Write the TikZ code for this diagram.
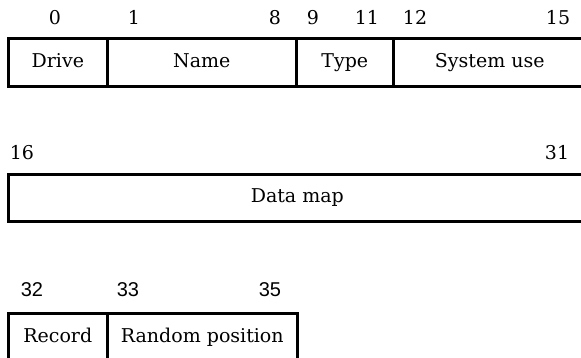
\documentclass[tikz,border=0pt]{standalone}
\usepackage{fontspec}
\setmainfont{DejaVu Serif}
\newfontfamily\numsans{Liberation Sans}
\begin{document}
\begin{tikzpicture}[x=1pt,y=1pt,
  cell/.style={draw=black,line width=2.6pt,rectangle,anchor=north west,inner sep=0pt,
    minimum height=48pt,text height=14pt,text depth=4pt,font=\fontsize{19}{22}\selectfont},
  lbl/.style={inner sep=0pt,anchor=base,font=\fontsize{19}{22}\selectfont},
  slbl/.style={inner sep=0pt,anchor=base,font=\numsans\fontsize{20}{22}\selectfont}]
\useasboundingbox (0,0) rectangle (581,-357);
% row 1
\node[cell,minimum width=99pt] (drive) at (7,-37) {Drive};
\node[cell,minimum width=189pt] (name) at (106,-37) {Name};
\node[cell,minimum width=97pt] (type) at (295,-37) {Type};
\node[cell,minimum width=193pt] (sys) at (392,-37) {System use};
\node[lbl] (l0) at (55,-24) {0};
\node[lbl] (l1) at (134,-24) {1};
\node[lbl] (l8) at (275,-24) {8};
\node[lbl] (l9) at (313,-24) {9};
\node[lbl] (l11) at (367,-24) {11};
\node[lbl] (l12) at (415,-24) {12};
\node[lbl] (l15) at (558,-24) {15};
% row 2
\node[cell,minimum width=578pt,minimum height=47pt] (data) at (7,-173) {Data map};
\node[lbl] (l16) at (22,-159) {16};
\node[lbl] (l31) at (557,-159) {31};
% row 3
\node[cell,minimum width=99pt] (rec) at (7,-312) {Record};
\node[cell,minimum width=190pt] (rand) at (106,-312) {Random position};
\node[slbl] (l32) at (32,-296) {32};
\node[slbl] (l33) at (128,-296) {33};
\node[slbl] (l35) at (270,-296) {35};
\end{tikzpicture}
\end{document}
